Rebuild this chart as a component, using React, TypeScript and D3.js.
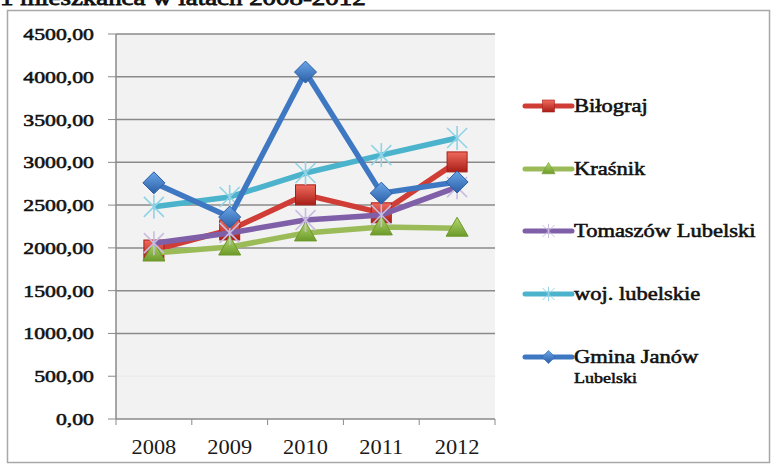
import * as d3 from 'd3';

// dane: dochody na 1 mieszkańca
const years = ['2008', '2009', '2010', '2011', '2012'];
const bilgoraj = [1975, 2210, 2620, 2410, 3005];
const krasnik = [1940, 2010, 2175, 2245, 2230];
const tomaszow = [2055, 2175, 2325, 2385, 2710];
const wojLubelskie = [2480, 2595, 2875, 3085, 3285];
const gminaJanow = [2760, 2360, 4055, 2640, 2770];
const yTicks = [0, 500, 1000, 1500, 2000, 2500, 3000, 3500, 4000, 4500];

type Marker = 'square' | 'triangle' | 'star' | 'diamond';

const series = [
  { name: 'Biłograj', values: bilgoraj, line: '#CF3D36', marker: 'square' as Marker, light: '#F06A5C', dark: '#A81E18' },
  { name: 'Kraśnik', values: krasnik, line: '#9BBB59', marker: 'triangle' as Marker, light: '#B5D970', dark: '#6C9A2A' },
  { name: 'Tomaszów Lubelski', values: tomaszow, line: '#7F5FA8', marker: 'star' as Marker, light: '#C9BCE0', dark: '#A898C8' },
  { name: 'woj. lubelskie', values: wojLubelskie, line: '#4BB3CB', marker: 'star' as Marker, light: '#8FD3E6', dark: '#6CC0DA' },
  { name: 'Gmina Janów', values: gminaJanow, line: '#3F78C2', marker: 'diamond' as Marker, light: '#6AA6E8', dark: '#2B5EA6' },
];

const margin = { left: 116, right: 276, top: 34, bottom: 47 };
const W = 771;
const H = 466;
const SERIF = "'Liberation Serif', serif";
// pogrubienie przez obrys, bo pogrubiony krój szeryfowy wypada na bezszeryfowy
const heavy = { fontFamily: SERIF, stroke: '#111', strokeWidth: 0.55, fill: '#111' };

function MarkerShape({ kind, x, y, id, light, dark }: { kind: Marker; x: number; y: number; id: string; light: string; dark: string }) {
  const fill = `url(#${id})`;
  if (kind === 'square') {
    return <rect x={x - 10} y={y - 10} width={20} height={20} fill={fill} stroke={dark} strokeWidth={1} />;
  }
  if (kind === 'diamond') {
    const r = 11;
    return <path d={`M${x},${y - r}L${x + r},${y}L${x},${y + r}L${x - r},${y}Z`} fill={fill} stroke={dark} strokeWidth={1} />;
  }
  if (kind === 'triangle') {
    return <path d={`M${x},${y - 11}L${x + 11},${y + 8}L${x - 11},${y + 8}Z`} fill={fill} stroke={dark} strokeWidth={1} />;
  }
  const r = 10;
  return (
    <g stroke={light} strokeWidth={1.6}>
      <line x1={x - r} y1={y - r} x2={x + r} y2={y + r} />
      <line x1={x - r} y1={y + r} x2={x + r} y2={y - r} />
      <line x1={x} y1={y - r - 2} x2={x} y2={y + r + 2} />
    </g>
  );
}

export default function App() {
  const innerW = W - margin.left - margin.right;
  const innerH = H - margin.top - margin.bottom;

  const x = d3.scaleBand<string>().domain(years).range([margin.left, margin.left + innerW]);
  const y = d3.scaleLinear().domain([0, 4500]).range([margin.top + innerH, margin.top]);
  const cx = (yr: string) => (x(yr) as number) + x.bandwidth() / 2;
  const fmt = (v: number) => d3.format('.2f')(v).replace('.', ',');

  const line = d3.line<number>()
    .x((_, i) => cx(years[i]))
    .y(d => y(d));

  const bottom = margin.top + innerH;
  const legendX = 525;
  const legendY = [106, 169, 231, 294, 357];

  return (
    <svg width={W} height={H} style={{ position: 'absolute', left: 0, top: 0, background: '#fff' }}>
      <defs>
        {series.map((s, i) => (
          <linearGradient key={i} id={`g${i}`} x1="0" y1="0" x2="0" y2="1">
            <stop offset="0%" stopColor={s.light} />
            <stop offset="100%" stopColor={s.dark} />
          </linearGradient>
        ))}
      </defs>

      {/* tytuł, ucięty u góry */}
      <text transform="translate(0,5) scale(1.28,1)" style={{ ...heavy, strokeWidth: 0.8 }} fontSize={21}>
        1 mieszkańca w latach 2008-2012
      </text>

      {/* ramka wykresu */}
      <rect x={7.5} y={10.5} width={762} height={452} fill="#fff" stroke="#a8a8a8" strokeWidth={1.5} />

      {/* obszar kreślenia */}
      <rect x={margin.left} y={margin.top} width={innerW} height={innerH} fill="#F2F2F2" />

      {yTicks.map(t => (
        <g key={t}>
          {t > 0 && (
            <line x1={margin.left} x2={margin.left + innerW} y1={y(t)} y2={y(t)}
              stroke={t === 500 ? '#ebebeb' : '#8a8a8a'} strokeWidth={1.5} />
          )}
          <line x1={margin.left - 8} x2={margin.left} y1={y(t)} y2={y(t)} stroke="#8a8a8a" strokeWidth={1} />
          <text transform={`translate(${margin.left - 22},${y(t) + 6}) scale(1.28,1)`} textAnchor="end"
            style={heavy} fontSize={17}>
            {fmt(t)}
          </text>
        </g>
      ))}

      {/* osie */}
      <line x1={margin.left} x2={margin.left} y1={margin.top} y2={bottom} stroke="#8a8a8a" strokeWidth={1.5} />
      <line x1={margin.left} x2={margin.left + innerW} y1={bottom} y2={bottom} stroke="#8a8a8a" strokeWidth={1.5} />
      {[...years.map(yr => x(yr) as number), margin.left + innerW].map((p, i) => (
        <line key={i} x1={p} x2={p} y1={bottom} y2={bottom + 6} stroke="#8a8a8a" strokeWidth={1} />
      ))}
      {years.map(yr => (
        <text key={yr} transform={`translate(${cx(yr)},${bottom + 35}) scale(1.12,1)`} textAnchor="middle"
          style={{ fontFamily: SERIF }} fontSize={20} fill="#1a1a1a">
          {yr}
        </text>
      ))}

      {/* serie */}
      {series.map((s, i) => (
        <g key={s.name}>
          <path d={line(s.values) as string} fill="none" stroke={s.line} strokeWidth={5.5} strokeLinejoin="round" />
          {s.values.map((v, j) => (
            <MarkerShape key={j} kind={s.marker} x={cx(years[j])} y={y(v)} id={`g${i}`} light={s.light} dark={s.dark} />
          ))}
        </g>
      ))}

      {/* legenda */}
      {series.map((s, i) => (
        <g key={s.name}>
          <line x1={legendX} x2={legendX + 47} y1={legendY[i]} y2={legendY[i]} stroke={s.line} strokeWidth={5} strokeLinecap="round" />
          <g transform={`translate(${legendX + 23.5},${legendY[i]}) scale(0.6)`}>
            <MarkerShape kind={s.marker} x={0} y={0} id={`g${i}`} light={s.light} dark={s.dark} />
          </g>
          <text transform={`translate(${legendX + 49},${legendY[i] + 6}) scale(1.25,1)`}
            style={heavy} fontSize={18}>
            {s.name}
          </text>
        </g>
      ))}
      <text transform={`translate(${legendX + 49},${legendY[4] + 26}) scale(1.2,1)`}
        style={heavy} fontSize={15}>
        Lubelski
      </text>
    </svg>
  );
}
